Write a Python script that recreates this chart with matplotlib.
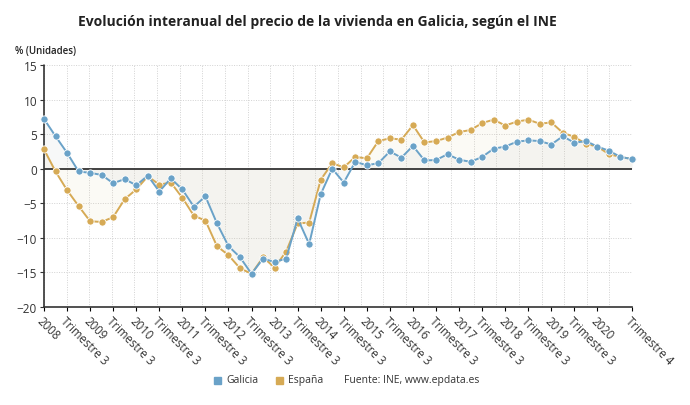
import numpy as np
import matplotlib
matplotlib.use("Agg")
import matplotlib.pyplot as plt

plt.rcParams['font.family'] = ['Open Sans', 'DejaVu Sans']

# quarterly data, 2008 Q1 .. 2020 Q4
years = list(range(2008, 2021))
galicia = [7.2, 4.7, 2.3, -0.4,
           -0.6, -0.9, -2.1, -1.5,
           -2.4, -1.0, -3.3, -1.4,
           -3.0, -5.5, -4.0, -7.9,
           -11.2, -12.8, -15.2, -13.0,
           -13.5, -13.0, -7.2, -10.9,
           -3.7, 0.0, -2.0, 1.0,
           0.5, 0.8, 2.5, 1.6,
           3.3, 1.2, 1.25, 2.1,
           1.3, 1.0, 1.7, 2.9,
           3.2, 3.9, 4.1, 4.0,
           3.5, 4.7, 3.75, 4.0,
           3.2, 2.6, 1.7, 1.4]
espana = [2.8, -0.4, -3.1, -5.4,
          -7.6, -7.7, -7.0, -4.4,
          -3.0, -1.1, -2.3, -2.0,
          -4.2, -6.8, -7.5, -11.2,
          -12.5, -14.4, -15.2, -12.8,
          -14.3, -12.0, -7.9, -7.8,
          -1.6, 0.8, 0.2, 1.7,
          1.5, 4.0, 4.4, 4.2,
          6.3, 3.8, 4.0, 4.5,
          5.3, 5.6, 6.6, 7.1,
          6.25, 6.8, 7.1, 6.5,
          6.7, 5.2, 4.6, 3.6,
          3.2, 2.1, 1.7, 1.4]

tick_pos = []
tick_labels = []
for i, y in enumerate(years):
    tick_pos.append(i * 4)
    tick_labels.append(str(y))
    if y < 2020:
        tick_pos.append(i * 4 + 2)
        tick_labels.append("Trimestre 3")
tick_pos.append(len(galicia) - 1)
tick_labels.append("Trimestre 4")

c_gal = '#6aa2c8'
c_esp = '#d6aa55'

fig = plt.figure(figsize=(6.9, 4.06), dpi=100)
ax = fig.add_axes([44 / 690, 1 - 308 / 406, 588 / 690, 242 / 406])

x = np.arange(len(galicia))
n = len(galicia) - 1

# grid
for gx in np.linspace(0, n, 27):
    ax.axvline(gx, color='#d2d2d2', lw=0.7, ls=(0, (1, 1.5)), zorder=0)
for gy in [-15, -10, -5, 5, 10, 15]:
    ax.axhline(gy, color='#d2d2d2', lw=0.7, ls=(0, (1, 1.5)), zorder=0)

ax.fill_between(x, galicia, 0, color='#b8bcbf', alpha=0.1, lw=0, zorder=1)
ax.fill_between(x, espana, 0, color='#e0cfa0', alpha=0.1, lw=0, zorder=1)
ax.axhline(0, color='#333333', lw=1.3, zorder=2)

ax.plot(x, espana, color=c_esp, lw=1.4, marker='o', ms=5.2, mec='white', mew=0.6,
        zorder=3, clip_on=False)
ax.plot(x, galicia, color=c_gal, lw=1.4, marker='o', ms=5.2, mec='white', mew=0.6,
        zorder=4, clip_on=False)

ax.set_xlim(0, n)
ax.set_ylim(-20, 15)
ax.set_yticks([15, 10, 5, 0, -5, -10, -15, -20])
ax.set_xticks(tick_pos)
ax.set_xticklabels(tick_labels, rotation=-45, ha='left', va='top',
                   rotation_mode='anchor', fontsize=8.3, color='#333333')
ax.tick_params(axis='y', labelsize=8.5, colors='#333333', length=3, width=0.8, pad=2)
ax.tick_params(axis='x', length=3, width=0.8, pad=2)

for s in ['top', 'right']:
    ax.spines[s].set_visible(False)
for s in ['left', 'bottom']:
    ax.spines[s].set_linestyle((0, (1, 1)))
    ax.spines[s].set_color('#333333')
    ax.spines[s].set_linewidth(1.2)

fig.text(317 / 690, 1 - 22 / 406, "Evolución interanual del precio de la vivienda en Galicia, según el INE",
         ha='center', va='center', fontsize=10, fontweight='bold', color='#222222')
fig.text(15 / 690, 1 - 52 / 406, "% (Unidades)", ha='left', va='center',
         fontsize=7, fontweight='semibold', color='#222222')

# legend row
ly = 1 - 381 / 406
fig.patches.append(plt.Rectangle((214 / 690, ly - 3.5 / 406), 7 / 690, 7 / 406,
                                 transform=fig.transFigure, color=c_gal))
fig.text(226 / 690, ly, "Galicia", ha='left', va='center', fontsize=7.5, color='#333333')
fig.patches.append(plt.Rectangle((276 / 690, ly - 3.5 / 406), 7 / 690, 7 / 406,
                                 transform=fig.transFigure, color=c_esp))
fig.text(288 / 690, ly, "España", ha='left', va='center', fontsize=7.5, color='#333333')
fig.text(344 / 690, ly, "Fuente: INE, www.epdata.es", ha='left', va='center',
         fontsize=7.5, color='#333333')

fig.savefig("out.png", dpi=100)
